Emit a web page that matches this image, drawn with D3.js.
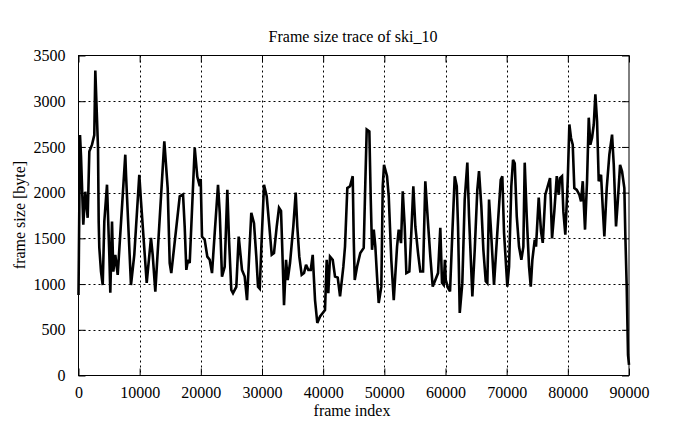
<!DOCTYPE html>
<html>
<head>
<meta charset="utf-8">
<script src="https://cdn.jsdelivr.net/npm/d3@7"></script>
<style>
  html, body { margin: 0; padding: 0; background: #fff; }
  svg { display: block; }
  text { font-family: "Liberation Serif", "Times New Roman", serif; fill: #000; }
</style>
</head>
<body>
<svg id="chart" width="695" height="429"></svg>
<script>
const titleText = "Frame size trace of ski_10";
const xLabel = "frame index";
const yLabel = "frame size [byte]";
const xTicks = [0, 10000, 20000, 30000, 40000, 50000, 60000, 70000, 80000, 90000];
const yTicks = [0, 500, 1000, 1500, 2000, 2500, 3000, 3500];

const frames = [
  0, 245, 410, 785, 1110, 1500, 1770, 2210, 2580, 2750, 2980, 3190, 3300, 3400, 3680, 3960,
  4220, 4660, 5040, 5200, 5480, 5690, 6020, 6410, 7650, 7770, 8580, 9120, 9940, 10220,
  11150, 11850, 12130, 12560, 14030, 14580, 14910, 15170, 16550, 17090, 17360, 17630,
  17900, 18180, 19000, 19420, 19820, 19980, 20190, 20630, 21060, 21450, 21830, 22270,
  22810, 23090, 23460, 23900, 24330, 24610, 24980, 25260, 25800, 26190, 26730, 27170,
  27550, 28250, 28690, 29070, 29350, 29630, 29890, 30330, 30770, 31200, 31590, 31960,
  32410, 32780, 33110, 33320, 33600, 33930, 34200, 34580, 35120, 35510, 35770, 36100,
  36490, 36870, 37200, 37570, 37970, 38290, 38670, 39040, 39490, 39930, 40300, 40580,
  40840, 41120, 41560, 41940, 42380, 42760, 43300, 43570, 43950, 44390, 44830, 45000,
  45160, 45540, 46070, 46630, 46890, 47120, 47550, 47780, 47990, 48270, 48530, 48810,
  49080, 49510, 49740, 49950, 50440, 50720, 51140, 51540, 52080, 52350, 52730, 53010,
  53330, 53600, 54090, 54410, 54740, 55070, 55510, 55880, 56330, 56700, 57140, 57520,
  57910, 58340, 58780, 59150, 59430, 59710, 59900, 60040, 60410, 60740, 61120, 61510,
  61840, 62050, 62330, 62750, 63140, 63570, 63850, 64390, 64780, 65200, 65480, 65860,
  66190, 66580, 66840, 67120, 67400, 67930, 68470, 69030, 69290, 69570, 70110, 70390,
  70760, 71040, 71320, 71650, 72020, 72400, 72730, 72950, 73280, 73660, 73940, 74200,
  74590, 74800, 75240, 75620, 75900, 76320, 76710, 77090, 77420, 77790, 78190, 78510,
  78730, 79050, 79270, 79590, 79980, 80250, 80520, 80800, 81060, 81460, 81880, 82160,
  82440, 82810, 83140, 83420, 83680, 83960, 84240, 84500, 84780, 85050, 85430, 85710,
  85970, 86360, 86790, 87230, 87510, 87880, 88160, 88540, 88860, 89240, 89400, 89630,
  89840, 90000
];
const sizes = [
  880, 2630, 2400, 1650, 2010, 1725, 2450, 2525, 2630, 3335, 2890, 2490, 1685, 1400, 1137, 990,
  1685, 2087, 1320, 905, 1685, 1137, 1320, 1100, 2415, 2195, 990, 1320, 2195, 1905,
  1013, 1505, 1320, 918, 2560, 2050, 1230, 1120, 1960, 1980, 1630, 1155,
  1265, 1230, 2490, 2175, 2070, 2150, 1520, 1485, 1300, 1265, 1120, 1560,
  2085, 1780, 1080, 1190, 2030, 1485, 935, 900, 970, 1520, 1155, 1082,
  825, 1780, 1667, 1300, 972, 950, 1400, 2085, 1960, 1630, 1320, 1340,
  1630, 1835, 1800, 1375, 770, 1265, 1045, 1230, 1630, 2000, 1630, 1300,
  1100, 1120, 1210, 1155, 1155, 1320, 825, 575, 645, 684, 717, 1265,
  900, 1300, 1265, 1082, 1070, 865, 1190, 1410, 2050, 2070, 2180, 1485,
  1045, 1190, 1340, 1395, 2105, 2690, 2670, 1925, 1375, 1595, 1410, 1082,
  793, 972, 2070, 2305, 2180, 1960, 1265, 825, 1410, 1595, 1448, 2015,
  1630, 1120, 1137, 1560, 2070, 1630, 1340, 1137, 1137, 2125, 1670, 1300,
  972, 1045, 1120, 1615, 1013, 990, 1265, 1045, 958, 920, 1560, 2180,
  2070, 1630, 684, 1010, 1925, 2328, 1740, 865, 1375, 2030, 2235, 1850,
  1375, 1030, 1010, 1925, 1630, 992, 1560, 2140, 2180, 1560, 972, 1190,
  2070, 2360, 2320, 1740, 1410, 1265, 1410, 2328, 1740, 1190, 972, 1265,
  1485, 1410, 1945, 1575, 1450, 1977, 2070, 2160, 1500, 1795, 2180, 1977,
  2160, 2180, 1795, 1540, 2125, 2745, 2598, 2525, 2050, 2030, 1977, 1905,
  2125, 1595, 2125, 2820, 2525, 2600, 2745, 3075, 2780, 2125, 2195, 1832,
  1520, 2050, 2415, 2635, 2305, 1630, 1900, 2305, 2233, 2050, 1540, 958,
  225, 115
];

const data = frames.map((f, i) => ({ f: f, v: sizes[i] }));

const svg = d3.select("#chart");
const pLeft = 78.5, pRight = 629, pTop = 55.5, pBottom = 375.5;

const x = d3.scaleLinear().domain([0, 90000]).range([pLeft, pRight]);
const y = d3.scaleLinear().domain([0, 3500]).range([pBottom, pTop]);

svg.append("rect").attr("x", 0).attr("y", 0).attr("width", 695).attr("height", 429).attr("fill", "#fff");

// grid
const grid = svg.append("g").attr("stroke", "#000").attr("stroke-width", 1).attr("stroke-dasharray", "2,3");
grid.selectAll("line.gx").data(xTicks.slice(1, -1)).enter().append("line")
  .attr("x1", d => Math.round(x(d)) + 0.5).attr("x2", d => Math.round(x(d)) + 0.5)
  .attr("y1", pTop).attr("y2", pBottom);
grid.selectAll("line.gy").data(yTicks.slice(1, -1)).enter().append("line")
  .attr("y1", d => Math.round(y(d)) + 0.5).attr("y2", d => Math.round(y(d)) + 0.5)
  .attr("x1", pLeft).attr("x2", pRight);

// axes with inward ticks on all sides
const tl = 7;
svg.append("g").attr("transform", `translate(0,${pBottom})`)
  .call(d3.axisBottom(x).tickValues(xTicks).tickSizeInner(-tl).tickSizeOuter(0).tickFormat(d3.format("d")).tickPadding(11))
  .call(g => g.select(".domain").remove());
svg.append("g").attr("transform", `translate(0,${pTop})`)
  .call(d3.axisTop(x).tickValues(xTicks).tickSizeInner(-tl).tickSizeOuter(0).tickFormat(""))
  .call(g => g.select(".domain").remove());
svg.append("g").attr("transform", `translate(${pLeft},0)`)
  .call(d3.axisLeft(y).tickValues(yTicks).tickSizeInner(-tl).tickSizeOuter(0).tickFormat(d3.format("d")).tickPadding(13))
  .call(g => g.select(".domain").remove());
svg.append("g").attr("transform", `translate(${pRight},0)`)
  .call(d3.axisRight(y).tickValues(yTicks).tickSizeInner(-tl).tickSizeOuter(0).tickFormat(""))
  .call(g => g.select(".domain").remove());

svg.selectAll(".tick line").attr("stroke", "#000");
svg.selectAll(".tick text").attr("font-size", 16).attr("font-family", "'Liberation Serif', serif").attr("fill", "#000");

// frame
svg.append("rect").attr("x", pLeft).attr("y", pTop).attr("width", pRight - pLeft).attr("height", pBottom - pTop)
  .attr("fill", "none").attr("stroke", "#000").attr("stroke-width", 1);

// trace
const line = d3.line().x(d => x(d.f)).y(d => y(d.v));
svg.append("path").datum(data).attr("d", line)
  .attr("fill", "none").attr("stroke", "#000").attr("stroke-width", 2.6).attr("stroke-linejoin", "miter").attr("stroke-miterlimit", 3);

// titles
svg.append("text").attr("x", 353).attr("y", 42).attr("text-anchor", "middle").attr("font-size", 16).text(titleText);
svg.append("text").attr("x", 352).attr("y", 416).attr("text-anchor", "middle").attr("font-size", 16).text(xLabel);
svg.append("text").attr("transform", "translate(25,215) rotate(-90)").attr("text-anchor", "middle").attr("font-size", 16).text(yLabel);
</script>
</body>
</html>
